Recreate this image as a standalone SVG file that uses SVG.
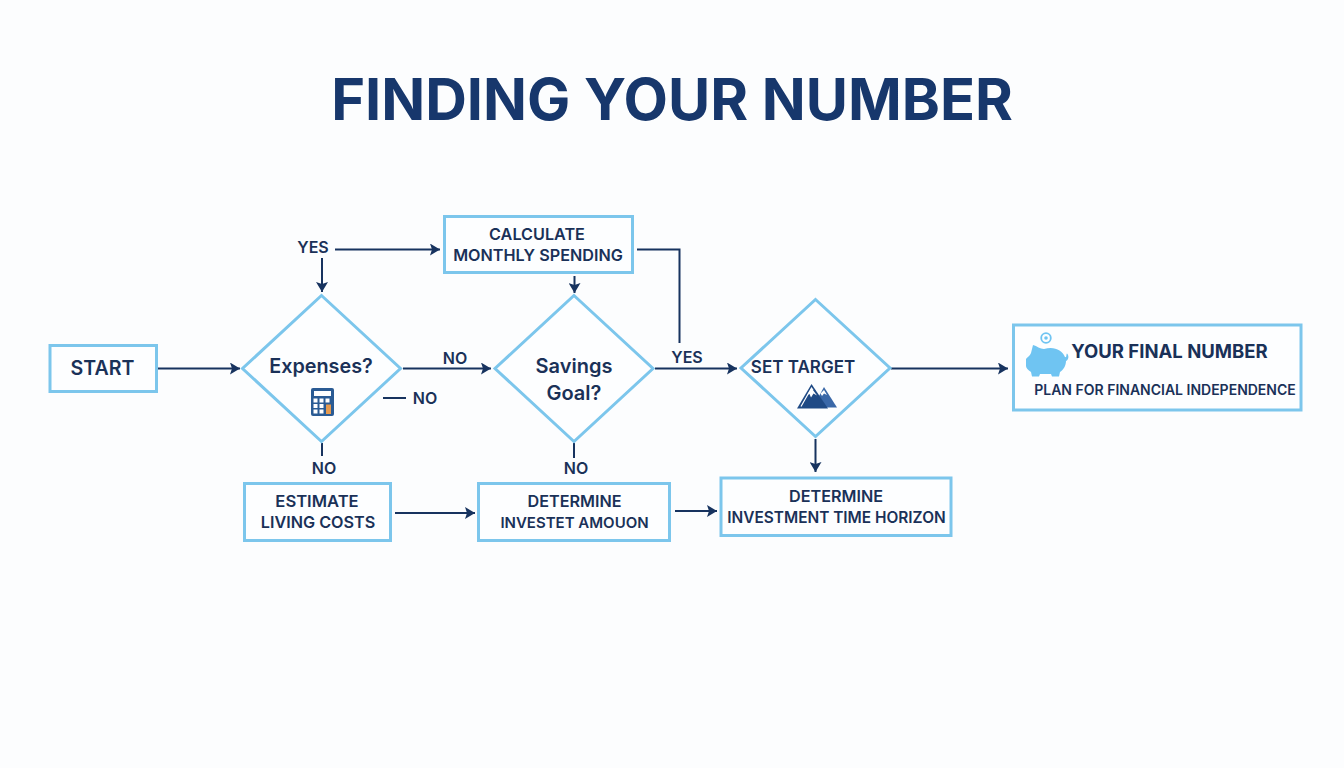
<svg xmlns="http://www.w3.org/2000/svg" width="1344" height="768" viewBox="0 0 1344 768">
<style>
text{font-family:Inter,Roboto,"Liberation Sans",sans-serif;fill:#1a3158;text-anchor:middle;font-weight:600}
.box{fill:#fdfeff;stroke:#7cc6ec;stroke-width:3}
.c{fill:none;stroke:#17335f;stroke-width:2}
.l{font-size:16px}
.b{font-size:16.2px}
.d{font-size:19.8px}
</style>
<defs>
<marker id="a" markerUnits="userSpaceOnUse" markerWidth="11" markerHeight="12" refX="10" refY="6" orient="auto"><path d="M0 0L10 6L0 12L2 6Z" fill="#17335f"/></marker>
</defs>
<rect width="1344" height="768" fill="#fcfdfe"/>
<text id="title" x="672" y="119.500" font-size="57.700" style="font-weight:700;fill:#17376c">FINDING YOUR NUMBER</text>
<g id="connectors">
<path class="c" marker-end="url(#a)" d="M158 368.500H240"/>
<path class="c" marker-end="url(#a)" d="M335 249.500H440"/>
<path class="c" marker-end="url(#a)" d="M322 258V292"/>
<path class="c" marker-end="url(#a)" d="M403 368.500H491"/>
<path class="c" d="M383 398H406"/>
<path class="c" d="M322 443V456"/>
<path class="c" d="M574 443V458"/>
<path class="c" marker-end="url(#a)" d="M395 513H475"/>
<path class="c" marker-end="url(#a)" d="M675 511H717"/>
<path class="c" marker-end="url(#a)" d="M574.500 276V293"/>
<path class="c" d="M637 249.500H679.500V343"/>
<path class="c" marker-end="url(#a)" d="M655 368.500H737"/>
<path class="c" marker-end="url(#a)" d="M815.500 439V472"/>
<path class="c" marker-end="url(#a)" d="M891 368.500H1008"/>
</g>
<g id="edge-labels">
<text class="l" x="313" y="253">YES</text>
<text class="l" x="455" y="364">NO</text>
<text class="l" x="425" y="404">NO</text>
<text class="l" x="324" y="474">NO</text>
<text class="l" x="576" y="474">NO</text>
<text class="l" x="687" y="363">YES</text>
</g>
<g id="start"><rect class="box" x="50" y="345.500" width="106.500" height="46"/><text x="102.500" y="375" font-size="19.600">START</text></g>
<g id="calculate"><rect class="box" x="444.500" y="216.500" width="188" height="56"/><text class="b" x="537" y="240">CALCULATE</text><text class="b" x="538" y="261">MONTHLY SPENDING</text></g>
<g id="expenses"><path class="box" d="M321.500 295.500L400.500 368.500L321.500 441.500L242.500 368.500Z"/><text class="d" x="321" y="373">Expenses?</text>
<g id="calculator-icon"><rect x="311" y="388" width="23" height="28" rx="2" fill="#2a5b94"/><rect x="314" y="391" width="17" height="5" fill="#fff"/><path fill="#fff" d="M313.500 398.500h4v4h-4zM319.500 398.500h4v4h-4zM325.500 398.500h4v4h-4zM313.500 404h4v4h-4zM319.500 404h4v4h-4zM313.500 409.500h4v4h-4zM319.500 409.500h4v4h-4z"/><rect x="326" y="404.500" width="5" height="9.500" fill="#e59a4f"/></g></g>
<g id="savings"><path class="box" d="M574 295.500L653 368.500L574 441.500L495 368.500Z"/><text class="d" x="574" y="373" style="font-size:20px">Savings</text><text class="d" x="574" y="400" style="font-size:20px">Goal?</text></g>
<g id="target"><path class="box" d="M815.500 299.500L890 368L815.500 436.500L741 368Z"/><text x="803" y="373" font-size="17">SET TARGET</text>
<g id="mountain-icon"><path fill="#3a68a8" d="M824 387L837 407.500H826L819 396Z"/><path fill="#fff" d="M824 390L827 395L824 393.500L822 396L820.500 393.500Z"/><path fill="#1f4a85" d="M811.500 384L828 408.500H797Z"/><path fill="none" stroke="#fff" stroke-width="1.200" d="M801 406.500L811.500 388L813 390"/><path fill="#fff" d="M807 395L811.500 388L817 395.500L813.500 393.500L811 397.500L809.500 394Z"/></g></g>
<g id="estimate"><rect class="box" x="244.500" y="483.500" width="146" height="57"/><text x="317" y="507" font-size="16.600">ESTIMATE</text><text class="b" x="318" y="528">LIVING COSTS</text></g>
<g id="amount"><rect class="box" x="478.500" y="483.500" width="191" height="57"/><text class="b" x="574.500" y="507">DETERMINE</text><text x="574.500" y="528" font-size="15">INVESTET AMOUON</text></g>
<g id="horizon"><rect class="box" x="721" y="478" width="230" height="57.500"/><text class="b" x="836" y="502">DETERMINE</text><text x="836.500" y="523" font-size="15.400">INVESTMENT TIME HORIZON</text></g>
<g id="final"><rect class="box" x="1013.500" y="325" width="287.500" height="85"/>
<g id="piggy-icon" fill="#6fc4f2"><path d="M1033 345C1037 346 1040 349 1044 349C1054 346 1062 350 1065 357C1067 358 1066 354 1067 353.500C1069 355 1069 360 1066 361C1066 366 1063 370 1060 372L1059 376.500H1052L1051 374H1040L1039 376.500H1032L1031 372C1028 370 1026 368 1026 366V359C1027 357 1030 356 1031 353Z"/><circle cx="1046" cy="338" r="4.800" fill="none" stroke="#6fc4f2" stroke-width="1.800"/><circle cx="1046" cy="338" r="1.800"/></g>
<text x="1169.500" y="358" font-size="18.500" style="font-weight:700">YOUR FINAL NUMBER</text><text x="1165" y="395" font-size="14">PLAN FOR FINANCIAL INDEPENDENCE</text></g>
</svg>
